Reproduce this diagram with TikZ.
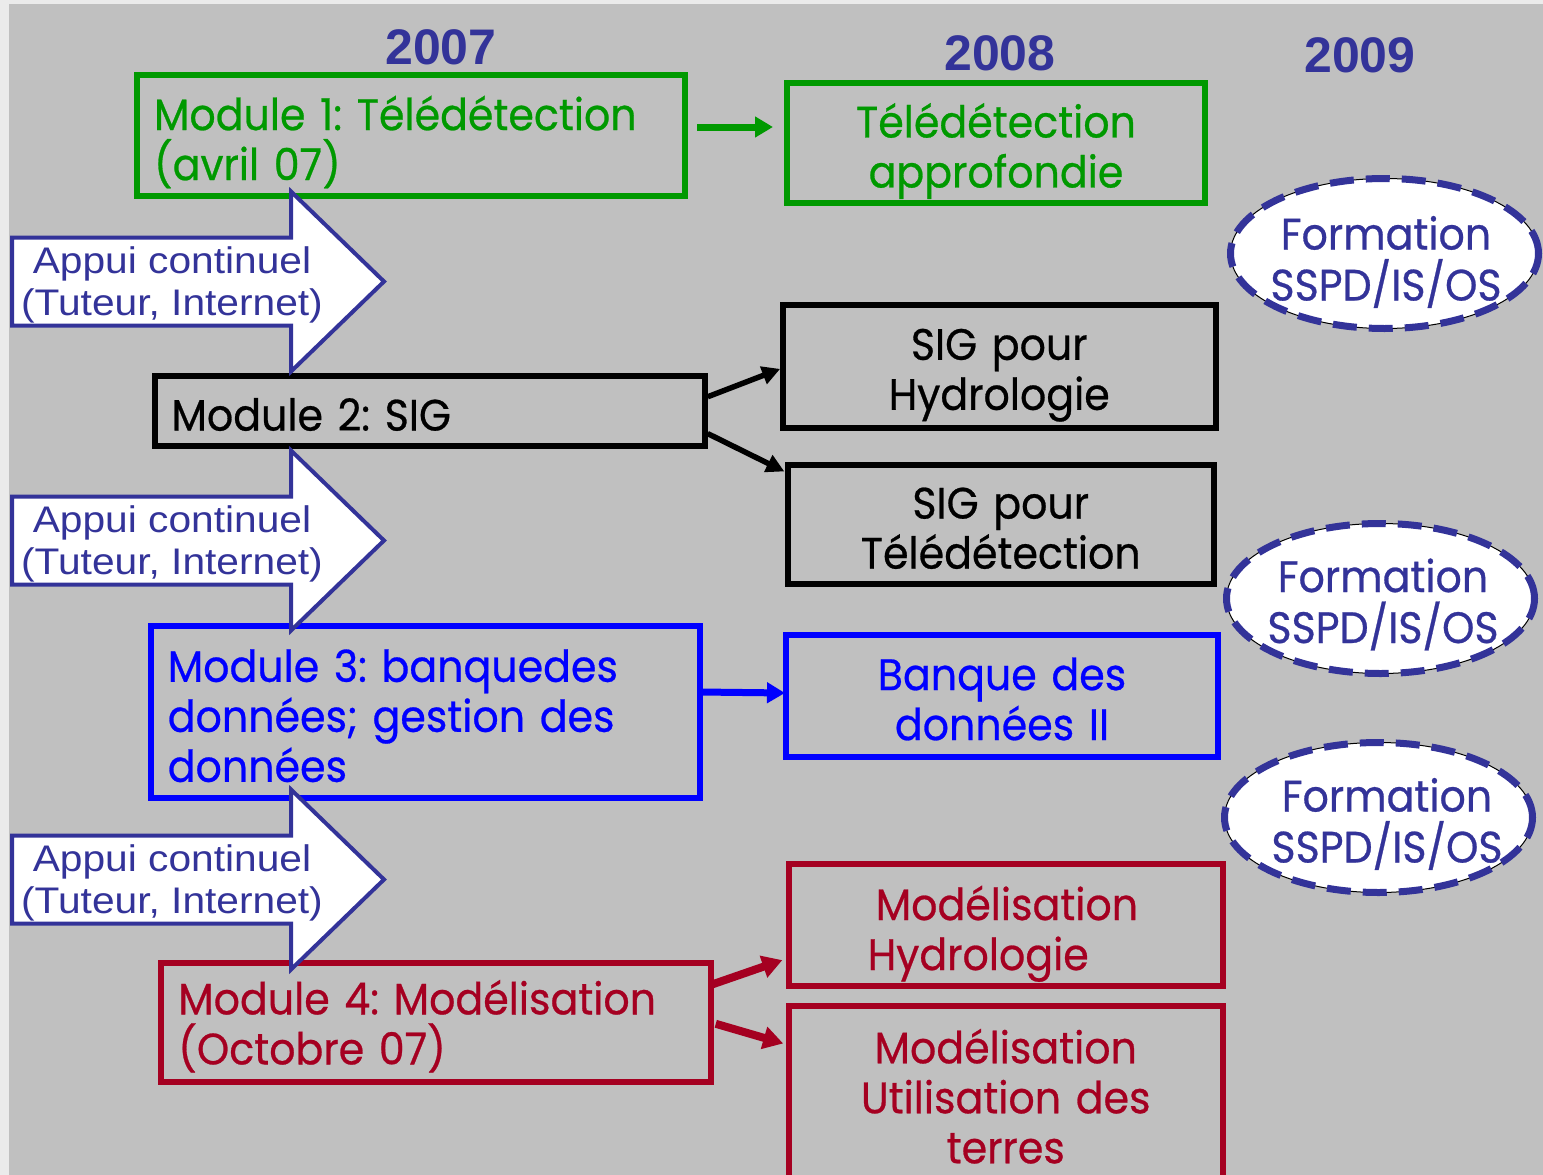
\documentclass[tikz,border=0pt]{standalone}
\usepackage{fontspec}
\usetikzlibrary{arrows.meta,shapes.geometric}
\newfontfamily\gothic[FakeStretch=0.935,FakeBold=0.6]{Poppins}
\newfontfamily\arrowfont[FakeStretch=1.1]{Liberation Sans}
\newfontfamily\yearfont{Liberation Sans}
\newcommand\boxfont{\gothic\fontsize{44}{50}\selectfont\frenchspacing\hyphenpenalty=10000\exhyphenpenalty=10000}
\definecolor{navy}{HTML}{333399}
\definecolor{grn}{HTML}{009900}
\definecolor{blu}{HTML}{0000FF}
\definecolor{rd}{HTML}{A50021}
\definecolor{bgc}{HTML}{C0C0C0}
\definecolor{edgec}{HTML}{EBEBEB}
\begin{document}
\begin{tikzpicture}[x=1pt,y=-1pt,
  box/.style={draw, line width=6pt, rectangle, inner sep=0pt, outer sep=0pt},
  boxtext/.style={inner sep=0pt, font=\boxfont},
  ell/.style={ellipse, draw=black, line width=1pt, fill=white, inner sep=0pt, outer sep=0pt,
    minimum width=308pt, minimum height=150pt,
    postaction={draw=navy, line width=7pt, dash pattern=on 24pt off 12pt}},
  elltext/.style={text=navy, align=center, inner sep=0pt, font={\gothic\fontsize{44}{51}\selectfont}},
  arrowtext/.style={text=navy, align=center, inner sep=0pt, font={\arrowfont\fontsize{37}{42}\selectfont}},
  year/.style={text=navy, inner sep=0pt, font={\yearfont\bfseries\fontsize{50}{60}\selectfont}},
  appui/.pic={\draw[navy, line width=4pt, fill=white, line join=miter]
     (12,-44) -- (291,-44) -- (291,-90) -- (384,0) -- (291,90) -- (291,44) -- (12,44) -- cycle;},
  conn/.style={line width=#1}
]
\useasboundingbox (0,0) rectangle (1543,1175);
\clip (0,0) rectangle (1543,1175);
\fill[edgec] (0,0) rectangle (1543,1175);
\fill[bgc] (9,4) rectangle (1543,1175);

% years
\node[year] (y07) at (441,47) {2007};
\node[year] (y08) at (1000,53) {2008};
\node[year] (y09) at (1360,55) {2009};

% boxes
\node[box, grn, minimum width=548.5pt, minimum height=121pt] (m1) at (411,135) {};
\node[box, grn, minimum width=418.5pt, minimum height=120.5pt] (t1) at (996,143) {};
\node[box, black, minimum width=550pt, minimum height=70pt] (m2) at (429.5,410.5) {};
\node[box, black, minimum width=433.5pt, minimum height=122.5pt] (h1) at (999.25,366.25) {};
\node[box, black, minimum width=426.5pt, minimum height=119.5pt] (h2) at (1000.75,524.25) {};
\node[box, blu, minimum width=549.5pt, minimum height=171.5pt] (m3) at (425.25,711.75) {};
\node[box, blu, minimum width=432pt, minimum height=122pt] (bq) at (1002,696) {};
\node[box, rd, minimum width=549.5pt, minimum height=119.5pt] (m4) at (435.75,1022.25) {};
\node[box, rd, minimum width=434.5pt, minimum height=121.5pt] (mh) at (1005.75,924.75) {};
\node[box, rd, minimum width=434.5pt, minimum height=181.5pt] (mu) at (1005.75,1096.25) {};

% box texts
\node[boxtext, grn, text width=514pt, align=left] (m1t) at ([yshift=-7pt]m1.center)
  {Module~1:~Télédétection\\(avril~07)};
\node[boxtext, grn, text width=400pt, align=center] (t1t) at ([yshift=-8pt]t1.center)
  {Télédétection\\approfondie};
\node[boxtext, black, text width=516pt, align=left] (m2t) at ([yshift=-4pt]m2.center)
  {Module~2:~SIG};
\node[boxtext, black, text width=420pt, align=center] (h1t) at ([yshift=-9pt]h1.center)
  {SIG pour\\Hydrologie};
\node[boxtext, black, text width=420pt, align=center] (h2t) at ([yshift=-4pt]h2.center)
  {SIG pour\\Télédétection};
\node[boxtext, blu, text width=515pt, align=left] (m3t) at ([yshift=-4pt]m3.center)
  {Module~3:~banquedes\\données;~gestion~des\\données};
\node[boxtext, blu, text width=420pt, align=center] (bqt) at ([yshift=-3pt]bq.center)
  {Banque des\\données II};
\node[boxtext, rd, text width=515pt, align=left] (m4t) at ([yshift=-4pt]m4.center)
  {Module~4:~Modélisation\\(Octobre~07)};
\node[boxtext, rd, text width=420pt, align=left] (mht) at ([yshift=-9pt]mh.center)
  {\hspace*{80pt}Modélisation\\\hspace*{72pt}Hydrologie};
\node[boxtext, rd, text width=420pt, align=center] (mut) at (mu.center)
  {Modélisation\\Utilisation des\\terres};

% ellipses
\node[ell] (e1) at (1384.5,253.5) {};
\node[ell] (e2) at (1380.5,598.5) {};
\node[ell] (e3) at (1378.5,817.5) {};
\node[elltext] (f1) at (1386,262) {Formation\\SSPD/IS/OS};
\node[elltext] (f2) at (1383,604.5) {Formation\\SSPD/IS/OS};
\node[elltext] (f3) at (1387,824) {Formation\\SSPD/IS/OS};

% connectors
\draw[grn, conn=7pt, -{Triangle[length=18pt,width=20pt]}, shorten <=11.75pt, shorten >=13.75pt]
  ([yshift=8pt]m1.east) -- ([yshift=16pt]t1.west);
\draw[black, conn=5.5pt, -{Triangle[length=18pt,width=18pt]}, shorten <=3.5pt, shorten >=2.5pt]
  ([yshift=12.5pt]m2.east) -- ([yshift=-1.75pt]h1.west);
\draw[black, conn=5.5pt, -{Triangle[length=18pt,width=18pt]}, shorten <=3.5pt, shorten >=3.5pt]
  ([yshift=-21.5pt]m2.east) -- ([yshift=51.25pt]h2.west);
\draw[blu, conn=7pt, -{Triangle[length=18pt,width=20pt]}, shorten <=3pt, shorten >=1pt]
  ([yshift=19.75pt]m3.east) -- ([yshift=3pt]bq.west);
\draw[rd, conn=8pt, -{Triangle[length=20pt,width=22pt]}, shorten <=1.5pt, shorten >=6.5pt]
  ([yshift=37.25pt]m4.east) -- ([yshift=-33.25pt]mh.west);
\draw[rd, conn=8pt, -{Triangle[length=20pt,width=22pt]}, shorten <=5.5pt, shorten >=5.5pt]
  (m4.east) -- ([yshift=51.25pt]mu.west);

% block arrows
\pic at (0,281.5) {appui};
\pic at (0,540.5) {appui};
\pic at (0,879.5) {appui};
\node[arrowtext] (a1) at (172,285) {Appui continuel\\(Tuteur, Internet)};
\node[arrowtext] (a2) at (172,543.5) {Appui continuel\\(Tuteur, Internet)};
\node[arrowtext] (a3) at (172,882.5) {Appui continuel\\(Tuteur, Internet)};
\end{tikzpicture}
\end{document}
